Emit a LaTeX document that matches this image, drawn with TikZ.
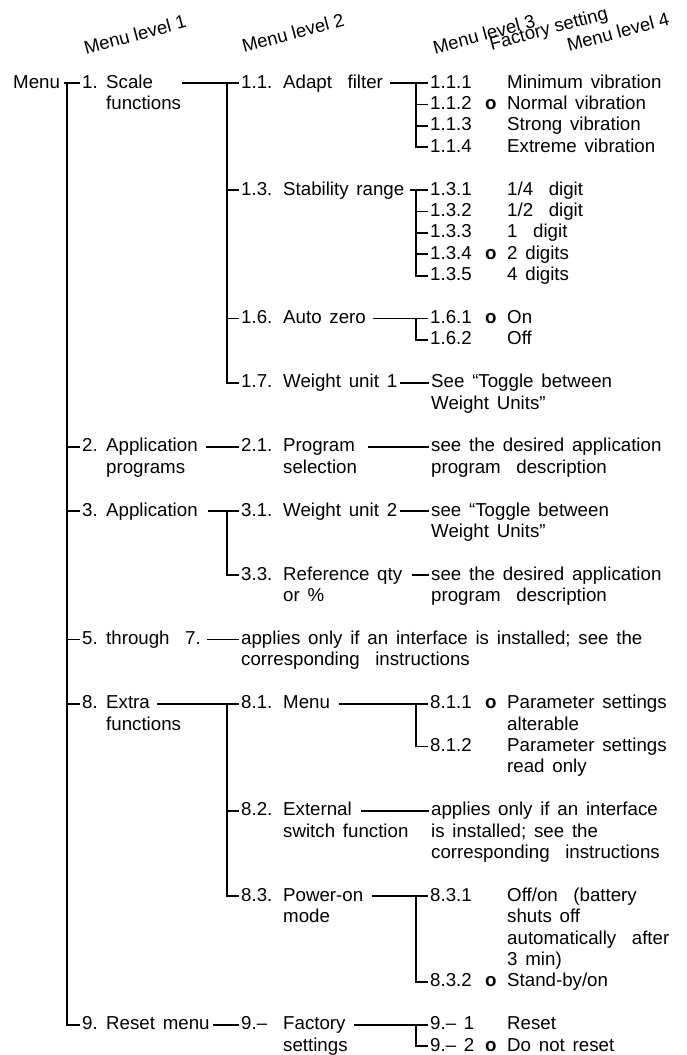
\documentclass[tikz,border=0pt]{standalone}
\usepackage{fontspec}
\setmainfont[WordSpace=1.5]{Liberation Sans}
\newfontfamily\headfont{Liberation Sans}
\usepackage{tikz}

\begin{document}
\begin{tikzpicture}
    [x=1pt,y=-21.4pt,
    font=\fontsize{18.7}{21.4}\selectfont,
    num/.style={inner sep=0pt,text height=10pt,text depth=0pt,anchor=base west},
    txt/.style={inner sep=0pt,anchor=base west,align=left},
    head/.style={inner sep=0pt,rotate=15,font=\headfont\fontsize{18.5}{21.4}\selectfont},
    link/.style={line width=1.8pt,shorten >=2pt}]

    \useasboundingbox (0pt,88pt) rectangle (686pt,-967pt);

    \node (h1) [head] at (135,-2.50) {Menu level 1};
    \node (h2) [head] at (293,-2.57) {Menu level 2};
    \node (h3) [head] at (484,-2.52) {Menu level 3};
    \node (h4) [head] at (549,-2.72) {Factory setting};
    \node (h5) [head] at (618,-2.62) {Menu level 4};

    \coordinate (bus1) at (67,0);
    \coordinate (bus2) at (227,0);
    \coordinate (bus3) at (416,0);

    \node (menu) [num] at (13,0) {Menu};
    \node (n1) [num] at (82,0) {1.};
    \node (t1) [txt] at (106,0) {Scale};
    \node (t1x) [txt] at (106,1) {functions};
    \node (n2) [num] at (82,17) {2.};
    \node (t2) [txt] at (106,17) {Application};
    \node (t2x) [txt] at (106,18) {programs};
    \node (n3) [num] at (82,20) {3.};
    \node (t3) [txt] at (106,20) {Application};
    \node (n5) [num] at (82,26) {5.};
    \node (t5) [txt] at (106,26) {through~ 7.};
    \node (n8) [num] at (82,29) {8.};
    \node (t8) [txt] at (106,29) {Extra};
    \node (t8x) [txt] at (106,30) {functions};
    \node (n9) [num] at (82,44) {9.};
    \node (t9) [txt] at (106,44) {Reset menu};

    \node (n11) [num] at (241,0) {1.1.};
    \node (t11) [txt] at (283,0) {Adapt~ filter};
    \node (n13) [num] at (241,5) {1.3.};
    \node (t13) [txt] at (283,5) {Stability range};
    \node (n16) [num] at (241,11) {1.6.};
    \node (t16) [txt] at (283,11) {Auto zero};
    \node (n17) [num] at (241,14) {1.7.};
    \node (t17) [txt] at (283,14) {Weight unit 1};
    \node (n21) [num] at (241,17) {2.1.};
    \node (t21) [txt] at (283,17) {Program};
    \node (t21x) [txt] at (283,18) {selection};
    \node (n31) [num] at (241,20) {3.1.};
    \node (t31) [txt] at (283,20) {Weight unit 2};
    \node (n33) [num] at (241,23) {3.3.};
    \node (t33) [txt] at (283,23) {Reference qty};
    \node (t33x) [txt] at (283,24) {or \%};
    % multi-line texts sit on the baseline of their last line
    \node (d5) [txt] at (241,27) {applies only if an interface is installed; see the\\corresponding~ instructions};
    \node (n81) [num] at (241,29) {8.1.};
    \node (t81) [txt] at (283,29) {Menu};
    \node (n82) [num] at (241,34) {8.2.};
    \node (t82) [txt] at (283,34) {External};
    \node (t82x) [txt] at (283,35) {switch function};
    \node (n83) [num] at (241,38) {8.3.};
    \node (t83) [txt] at (283,38) {Power-on};
    \node (t83x) [txt] at (283,39) {mode};
    \node (n90) [num] at (241,44) {9.–};
    \node (t90) [txt] at (283,44) {Factory};
    \node (t90x) [txt] at (283,45) {settings};

    \node (n111) [num] at (430,0) {1.1.1};
    \node (v111) [txt] at (507,0) {Minimum vibration};
    \node (n112) [num] at (430,1) {1.1.2};
    \node (o112) [txt] at (485,1) {\textbf{o}};
    \node (v112) [txt] at (507,1) {Normal vibration};
    \node (n113) [num] at (430,2) {1.1.3};
    \node (v113) [txt] at (507,2) {Strong vibration};
    \node (n114) [num] at (430,3) {1.1.4};
    \node (v114) [txt] at (507,3) {Extreme vibration};
    \node (n131) [num] at (430,5) {1.3.1};
    \node (v131) [txt] at (507,5) {1/4~ digit};
    \node (n132) [num] at (430,6) {1.3.2};
    \node (v132) [txt] at (507,6) {1/2~ digit};
    \node (n133) [num] at (430,7) {1.3.3};
    \node (v133) [txt] at (507,7) {1~ digit};
    \node (n134) [num] at (430,8) {1.3.4};
    \node (o134) [txt] at (485,8) {\textbf{o}};
    \node (v134) [txt] at (507,8) {2 digits};
    \node (n135) [num] at (430,9) {1.3.5};
    \node (v135) [txt] at (507,9) {4 digits};
    \node (n161) [num] at (430,11) {1.6.1};
    \node (o161) [txt] at (485,11) {\textbf{o}};
    \node (v161) [txt] at (507,11) {On};
    \node (n162) [num] at (430,12) {1.6.2};
    \node (v162) [txt] at (507,12) {Off};
    \node (d17) [txt] at (431,15) {See “Toggle between\\Weight Units”};
    \node (d21) [txt] at (431,18) {see the desired application\\program~ description};
    \node (d31) [txt] at (431,21) {see “Toggle between\\Weight Units”};
    \node (d33) [txt] at (431,24) {see the desired application\\program~ description};
    \node (n811) [num] at (430,29) {8.1.1};
    \node (o811) [txt] at (485,29) {\textbf{o}};
    \node (v811) [txt] at (507,30) {Parameter settings\\alterable};
    \node (n812) [num] at (430,31) {8.1.2};
    \node (v812) [txt] at (507,32) {Parameter settings\\read only};
    \node (d82) [txt] at (431,36) {applies only if an interface\\is installed; see the\\corresponding~ instructions};
    \node (n831) [num] at (430,38) {8.3.1};
    \node (v831) [txt] at (507,41) {Off/on~ (battery\\shuts off\\automatically~ after\\3 min)};
    \node (n832) [num] at (430,42) {8.3.2};
    \node (o832) [txt] at (485,42) {\textbf{o}};
    \node (v832) [txt] at (507,42) {Stand-by/on};
    \node (n901) [num] at (430,44) {9.– 1};
    \node (v901) [txt] at (507,44) {Reset};
    \node (n902) [num] at (430,45) {9.– 2};
    \node (o902) [txt] at (485,45) {\textbf{o}};
    \node (v902) [txt] at (507,45) {Do not reset};

    \draw [link,shorten <=4pt] (menu) -- (n1);
    \draw [link] (bus1 |- n1) |- (n9);
    \draw [link] (bus1 |- n2) -- (n2);
    \draw [link] (bus1 |- n3) -- (n3);
    \draw [link] (bus1 |- n5) -- (n5);
    \draw [link] (bus1 |- n8) -- (n8);

    \draw [link,shorten <=29pt] (t1.east |- n1) -- (n11);
    \draw [link] (bus2 |- n11) |- (n17);
    \draw [link] (bus2 |- n13) -- (n13);
    \draw [link] (bus2 |- n16) -- (n16);
    \draw [link,shorten <=8pt] (t2.east |- n2) -- (n21);
    \draw [link,shorten <=10pt] (t3.east |- n3) -- (n31);
    \draw [link] (bus2 |- n31) |- (n33);
    \draw [link,shorten <=6pt] (t5.east |- n5) -- (d5.west |- n5);
    \draw [link,shorten <=7pt] (t8.east |- n8) -- (n81);
    \draw [link] (bus2 |- n81) |- (n83);
    \draw [link] (bus2 |- n82) -- (n82);
    \draw [link,shorten <=3pt] (t9.east |- n9) -- (n90);

    \draw [link,shorten <=7pt] (t11.east |- n11) -- (n111);
    \draw [link] (bus3 |- n111) |- (n114);
    \draw [link] (bus3 |- n112) -- (n112);
    \draw [link] (bus3 |- n113) -- (n113);
    \draw [link,shorten <=5pt] (t13.east |- n13) -- (n131);
    \draw [link] (bus3 |- n131) |- (n135);
    \draw [link] (bus3 |- n132) -- (n132);
    \draw [link] (bus3 |- n133) -- (n133);
    \draw [link] (bus3 |- n134) -- (n134);
    \draw [link,shorten <=7pt] (t16.east |- n16) -- (n161);
    \draw [link] (bus3 |- n161) |- (n162);
    \draw [link,shorten <=3pt] (t17.east |- n17) -- (d17.west |- n17);
    \draw [link,shorten <=13pt] (t21.east |- n21) -- (d21.west |- n21);
    \draw [link,shorten <=3pt] (t31.east |- n31) -- (d31.west |- n31);
    \draw [link,shorten <=10pt] (t33.east |- n33) -- (d33.west |- n33);
    \draw [link,shorten <=9pt] (t81.east |- n81) -- (n811);
    \draw [link] (bus3 |- n811) |- (n812);
    \draw [link,shorten <=9pt] (t82.east |- n82) -- (d82.west |- n82);
    \draw [link,shorten <=9pt] (t83.east |- n83) -- (n831);
    \draw [link] (bus3 |- n831) |- (n832);
    \draw [link,shorten <=8pt] (t90.east |- n90) -- (n901);
    \draw [link] (bus3 |- n901) |- (n902);

\end{tikzpicture}
\end{document}
